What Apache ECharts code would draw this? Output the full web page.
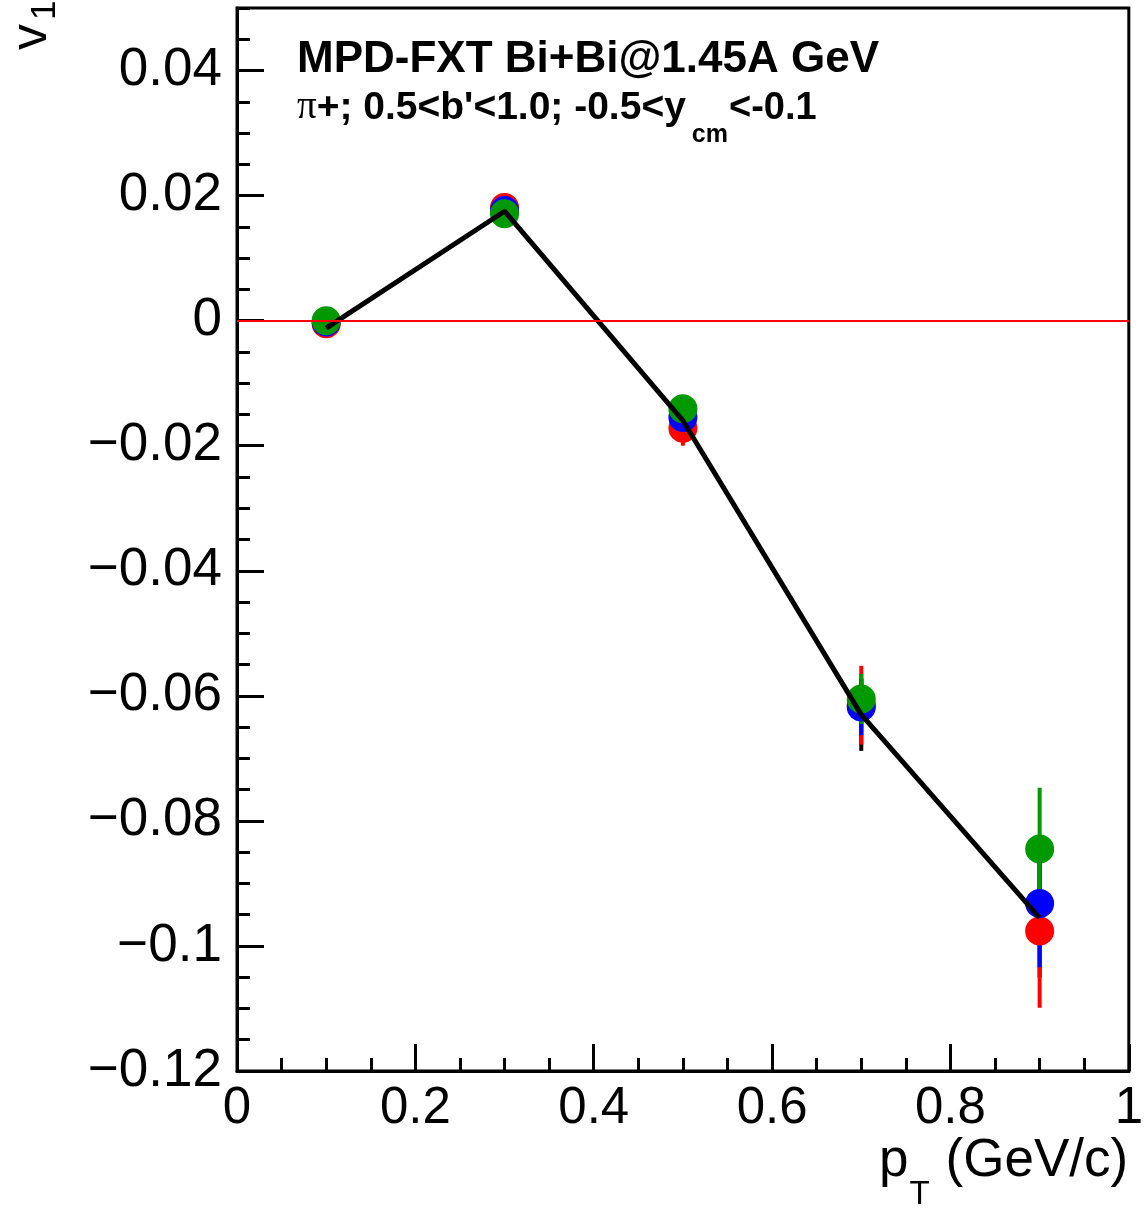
<!DOCTYPE html>
<html>
<head>
<meta charset="utf-8">
<title>v1 vs pT</title>
<script src="https://cdn.jsdelivr.net/npm/echarts@6/dist/echarts.min.js"></script>
<style>
  html, body { margin: 0; padding: 0; background: #ffffff; }
  #chart { width: 1146px; height: 1209px; }
</style>
</head>
<body>
<div id="chart"></div>
<script>
// pT bin centres (GeV/c)
const ptBins = [0.1, 0.3, 0.5, 0.7, 0.9];

// v1 values and statistical errors for each method
const v1Red   = [-0.0005, 0.0181, -0.0172, -0.0615, -0.0976];
const errRed  = [0.0012, 0.0015, 0.0028, 0.0063, 0.0123];
const v1Blue  = [-0.0002, 0.0176, -0.0155, -0.0618, -0.0932];
const errBlue = [0.0011, 0.0014, 0.0022, 0.0045, 0.0102];
const v1Green = [0.0000, 0.0171, -0.0141, -0.0605, -0.0845];
const errGreen = [0.0010, 0.0013, 0.0020, 0.0040, 0.0098];
// reference curve
const v1Ref   = [-0.0012, 0.0175, -0.0160, -0.0630, -0.0955];
const errRef  = [0.0010, 0.0015, 0.0025, 0.0058, 0.0095];

// axis ranges and tick labels
const xRange = [0, 1];
const yRange = [-0.12, 0.05];
const xTickLabels = ['0', '0.2', '0.4', '0.6', '0.8', '1'];
const yTickLabels = ['\u22120.12', '\u22120.1', '\u22120.08', '\u22120.06', '\u22120.04', '\u22120.02', '0', '0.02', '0.04'];

const FONT = "'Liberation Sans', Arial, Helvetica, sans-serif";
const SERIF = "'Liberation Serif', 'DejaVu Serif', serif";

// text width helper for laying out sub/superscript runs
const measureCtx = document.createElement('canvas').getContext('2d');
function textWidth(str, font) {
  measureCtx.font = font;
  return measureCtx.measureText(str).width;
}

// Build a run of text pieces along a baseline; each piece: {t, font, size, dy, gap}
function textRun(x0, baseY, pieces) {
  const out = [];
  let x = x0;
  pieces.forEach(p => {
    x += p.gap || 0;
    const font = p.font.replace('SIZE', p.size + 'px');
    out.push({
      type: 'text', x: x, y: baseY + (p.dy || 0) - 0.36 * p.size,
      style: { text: p.t, font: font, fill: '#000', textAlign: 'left', textVerticalAlign: 'middle' }
    });
    x += textWidth(p.t, font);
  });
  return out;
}

function pairs(xs, ys) {
  return xs.map((x, i) => [x, ys[i]]);
}

function errorBars(name, ys, errs, color) {
  return {
    type: 'custom',
    name: name + ' err',
    data: ptBins.map((x, i) => [x, ys[i] - errs[i], ys[i] + errs[i]]),
    encode: { x: 0, y: [1, 2] },
    silent: true,
    renderItem: function (params, api) {
      const lo = api.coord([api.value(0), api.value(1)]);
      const hi = api.coord([api.value(0), api.value(2)]);
      return {
        type: 'line',
        shape: { x1: lo[0], y1: lo[1], x2: hi[0], y2: hi[1] },
        style: { stroke: color, lineWidth: 4 }
      };
    }
  };
}

function markers(name, ys, color) {
  return {
    type: 'scatter',
    name: name,
    data: pairs(ptBins, ys),
    symbol: 'circle',
    symbolSize: 29,
    itemStyle: { color: color, opacity: 1 },
    silent: true
  };
}

const chart = echarts.init(document.getElementById('chart'), null, { renderer: 'canvas' });

// header lines
const titleLine = textRun(297, 76, [
  { t: 'MPD-FXT Bi+Bi@1.45A GeV', font: 'bold SIZE ' + FONT, size: 44 }
]);
const cutsLine = textRun(297, 122, [
  { t: '\u03c0', font: 'SIZE ' + SERIF, size: 39 },
  { t: "+; 0.5<b'<1.0; -0.5<y", font: 'bold SIZE ' + FONT, size: 39 },
  { t: 'cm', font: 'bold SIZE ' + FONT, size: 25, dy: 22, gap: 6 },
  { t: '<-0.1', font: 'bold SIZE ' + FONT, size: 38, gap: 1 }
]);

// x-axis title, right-aligned to the frame
const xTitleMain = '(GeV/c)';
const xTitleFont = '53px ' + FONT;
const xTitleRight = 1126;
const xTitleStart = xTitleRight - textWidth(xTitleMain, xTitleFont) - textWidth('p', xTitleFont) - 35;
const xTitle = textRun(xTitleStart, 1180, [
  { t: 'p', font: 'SIZE ' + FONT, size: 53 },
  { t: 'T', font: 'SIZE ' + FONT, size: 33, dy: 27, gap: 1 },
  { t: xTitleMain, font: 'SIZE ' + FONT, size: 53, gap: 16 }
]);

// y-axis title, rotated to read upwards
const yTitle = {
  type: 'group', x: 50, y: 50, rotation: Math.PI / 2,
  children: textRun(0, 0, [
    { t: 'v', font: 'SIZE ' + FONT, size: 52 },
    { t: '1', font: 'SIZE ' + FONT, size: 35, dy: 8, gap: 4 }
  ])
};

const option = {
  backgroundColor: '#ffffff',
  animation: false,
  grid: {
    left: 237, right: 17, top: 8, bottom: 138,
    show: true, borderColor: '#000', borderWidth: 3, backgroundColor: 'transparent'
  },
  xAxis: [
    {
      type: 'value', min: xRange[0], max: xRange[1], interval: 0.2,
      position: 'bottom',
      axisLine: { show: true, onZero: false, lineStyle: { color: '#000', width: 3 } },
      axisTick: { show: true, inside: true, length: 27, lineStyle: { color: '#000', width: 3 } },
      splitLine: { show: false },
      axisLabel: {
        show: true, margin: 12, color: '#000', fontFamily: FONT, fontSize: 51,
        showMinLabel: true, showMaxLabel: true,
        formatter: function (v) { return xTickLabels[Math.round(v / 0.2)] || ''; }
      }
    },
    {
      // minor ticks
      type: 'value', min: xRange[0], max: xRange[1], interval: 0.05,
      position: 'bottom',
      axisLine: { show: false, onZero: false },
      axisTick: { show: true, inside: true, length: 13, lineStyle: { color: '#000', width: 3 } },
      splitLine: { show: false },
      axisLabel: { show: false }
    }
  ],
  yAxis: [
    {
      type: 'value', min: yRange[0], max: yRange[1], interval: 0.02,
      position: 'left',
      axisLine: { show: true, onZero: false, lineStyle: { color: '#000', width: 3 } },
      axisTick: { show: true, inside: true, length: 27, lineStyle: { color: '#000', width: 3 } },
      splitLine: { show: false },
      axisLabel: {
        show: true, margin: 15, color: '#000', fontFamily: FONT, fontSize: 53,
        showMinLabel: true, showMaxLabel: false,
        formatter: function (v) {
          const k = Math.round((v - yRange[0]) / 0.02);
          if (Math.abs(v - (yRange[0] + k * 0.02)) > 1e-6) return '';
          return yTickLabels[k] || '';
        }
      }
    },
    {
      // minor ticks
      type: 'value', min: yRange[0], max: yRange[1], interval: 0.005,
      position: 'left',
      axisLine: { show: false, onZero: false },
      axisTick: { show: true, inside: true, length: 13, lineStyle: { color: '#000', width: 3 } },
      splitLine: { show: false },
      axisLabel: { show: false }
    }
  ],
  series: [
    { type: 'line', xAxisIndex: 1, yAxisIndex: 1, data: [], silent: true },
    {
      type: 'line',
      name: 'reference',
      data: pairs(ptBins, v1Ref),
      showSymbol: false,
      symbol: 'none',
      lineStyle: { color: '#000', width: 5 },
      silent: true,
      markLine: {
        silent: true,
        symbol: ['none', 'none'],
        label: { show: false },
        lineStyle: { color: '#ff0000', width: 2, type: 'solid' },
        data: [{ yAxis: 0 }],
        z: 10
      }
    },
    errorBars('reference', v1Ref, errRef, '#000000'),
    errorBars('red', v1Red, errRed, '#ff0000'),
    markers('red', v1Red, '#ff0000'),
    errorBars('blue', v1Blue, errBlue, '#0000ff'),
    markers('blue', v1Blue, '#0000ff'),
    errorBars('green', v1Green, errGreen, '#009900'),
    markers('green', v1Green, '#009900')
  ],
  graphic: [].concat(titleLine, cutsLine, xTitle, [yTitle])
};

chart.setOption(option);
</script>
</body>
</html>
